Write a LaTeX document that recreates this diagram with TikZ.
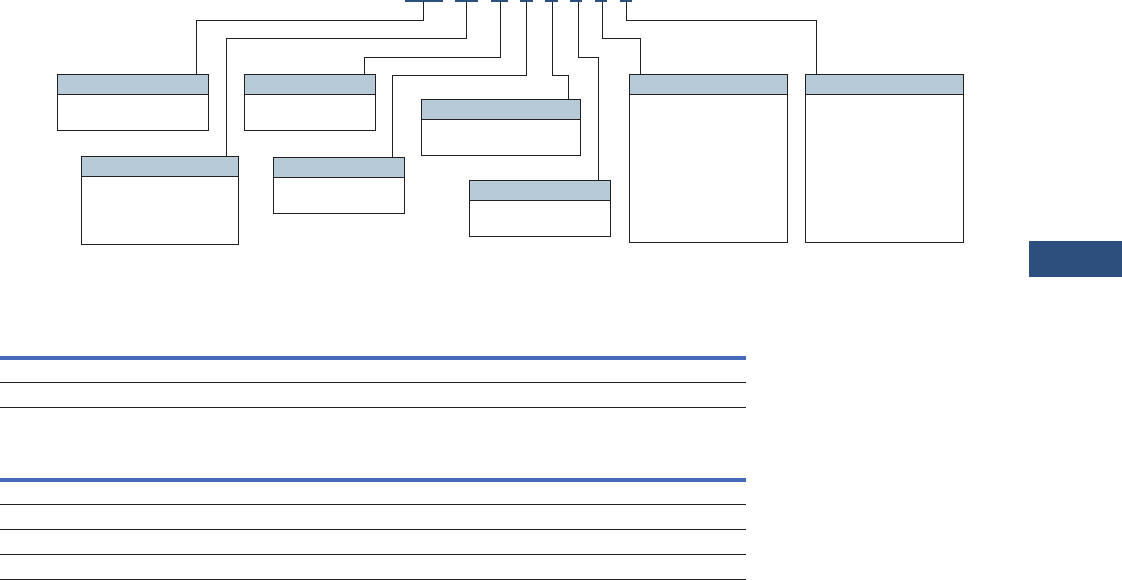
\documentclass[tikz,border=0pt]{standalone}
\usetikzlibrary{calc}
\definecolor{hdr}{HTML}{B6CBD7}
\definecolor{navy}{HTML}{2C4F7E}
\definecolor{rule}{HTML}{4769BA}
\definecolor{ink}{HTML}{231F20}
\tikzset{
  panel/.style={draw=ink, line width=1pt, rectangle, anchor=north west, inner sep=0pt, outer sep=0pt,
    path picture={
      \fill[hdr] (path picture bounding box.north west) rectangle ([yshift=-20pt]path picture bounding box.north east);
      \draw[ink, line width=1pt] ([yshift=-20pt]path picture bounding box.north west) -- ([yshift=-20pt]path picture bounding box.north east);
    }},
  tab/.style={fill=navy, rectangle, anchor=north west, inner sep=0pt, outer sep=0pt, minimum height=2pt},
  wire/.style={draw=ink, line width=1pt},
  thickrule/.style={draw=rule, line width=4pt},
  thinrule/.style={draw=ink, line width=1pt}
}
\begin{document}
\begin{tikzpicture}[x=1pt,y=-1pt]
\path[use as bounding box, fill=white] (0,0) rectangle (1122,580);

% tabs at the top
\node[tab, minimum width=38pt] (b1) at (405,0) {};
\node[tab, minimum width=23pt] (b2) at (455,0) {};
\node[tab, minimum width=17pt] (b3) at (491,0) {};
\node[tab, minimum width=13pt] (b4) at (520,0) {};
\node[tab, minimum width=13pt] (b5) at (545,0) {};
\node[tab, minimum width=12pt] (b6) at (570,0) {};
\node[tab, minimum width=12pt] (b7) at (595,0) {};
\node[tab, minimum width=12pt] (b8) at (620,0) {};

% panels
\node[panel, minimum width=151pt, minimum height=56pt] (p1) at (57.3,74.3) {};
\node[panel, minimum width=131pt, minimum height=56pt] (p2) at (244.3,74.3) {};
\node[panel, minimum width=159pt, minimum height=56pt] (p3) at (421.3,99.3) {};
\node[panel, minimum width=157pt, minimum height=87.6pt] (p4) at (81.3,156.7) {};
\node[panel, minimum width=131pt, minimum height=56pt] (p5) at (273.3,157.5) {};
\node[panel, minimum width=141pt, minimum height=56pt] (p6) at (469.3,180.3) {};
\node[panel, minimum width=158pt, minimum height=168pt] (p7) at (629.3,74.3) {};
\node[panel, minimum width=158pt, minimum height=168pt] (p8) at (805.3,74.3) {};

% side block
\node[fill=navy, rectangle, anchor=north west, inner sep=0pt, minimum width=93pt, minimum height=36pt] (side) at (1029,240.5) {};

% elbows
\coordinate (k1) at (196.3,20.3);
\coordinate (k2) at (226.3,38.3);
\coordinate (k3) at (364.0,57.3);
\coordinate (k4) at (392.3,75.5);
\coordinate (k5) at (568.3,75.5);
\coordinate (k6) at (598.3,57.3);
\coordinate (k7) at (640.5,38.3);
\coordinate (k8) at (816.3,20.3);

% connectors
\draw[wire] ([xshift=-0.7pt]b1.south) |- (k1) -- (k1 |- p1.north);
\draw[wire] ([xshift=0.2pt]b2.south) |- (k2) -- (k2 |- p4.north);
\draw[wire] ([xshift=0.8pt]b3.south) |- (k3) -- (k3 |- p2.north);
\draw[wire] (b4.south) |- (k4) -- (k4 |- p5.north);
\draw[wire] ([xshift=1pt]b5.south) |- (k5) -- (k5 |- p3.north);
\draw[wire] ([xshift=2.3pt]b6.south) |- (k6) -- (k6 |- p6.north);
\draw[wire] ([xshift=1.3pt]b7.south) |- (k7) -- (k7 |- p7.north);
\draw[wire] ([xshift=0.7pt]b8.south) |- (k8) -- (k8 |- p8.north);

% rules of the lower tables
\draw[thickrule] (0,358) -- (746,358);
\draw[thinrule] (0,382.3) -- (746,382.3);
\draw[thinrule] (0,407.3) -- (746,407.3);
\draw[thickrule] (0,480) -- (746,480);
\draw[thinrule] (0,504.3) -- (746,504.3);
\draw[thinrule] (0,529.3) -- (746,529.3);
\draw[thinrule] (0,554.3) -- (746,554.3);
\draw[thinrule] (0,579.2) -- (746,579.2);
\end{tikzpicture}
\end{document}
